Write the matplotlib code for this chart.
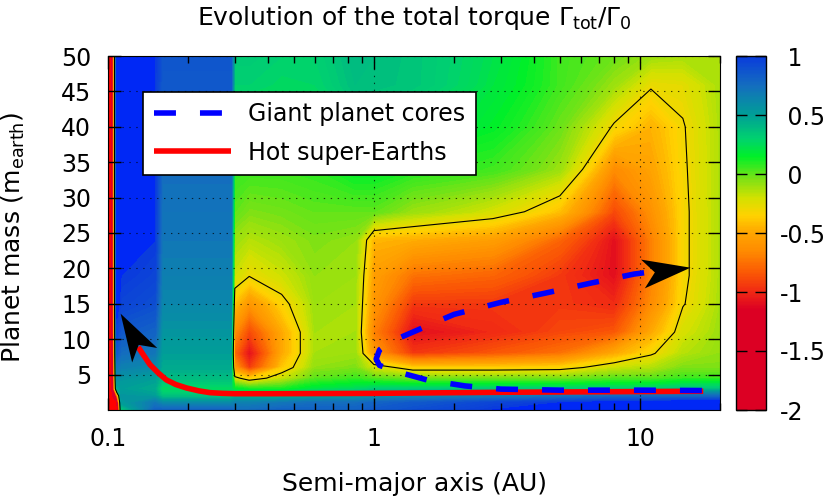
import numpy as np
import matplotlib
matplotlib.use('Agg')
import matplotlib.pyplot as plt
from matplotlib.colors import LinearSegmentedColormap, Normalize
from matplotlib.patches import FancyArrow
from matplotlib.transforms import IdentityTransform
from matplotlib.ticker import LogLocator, NullFormatter
import matplotlib.cm as cm

plt.rcParams['font.family'] = 'DejaVu Sans'
plt.rcParams['lines.scale_dashes'] = False

# grid of the torque map Gamma_tot/Gamma_0
a_nodes = [0.1, 0.1025, 0.108, 0.112, 0.15, 0.16, 0.29, 0.30, 0.34, 0.45,
           0.6, 0.85, 1.0, 1.4, 2.8, 5, 8, 11, 14.5, 20]
m_nodes = [0, 1, 2, 3, 4.5, 6, 8, 11, 15, 19, 24, 28, 34, 40, 46, 50]
torque = [
    [-2.5, -2.5, -2.5, 0.3, 0.8, 0.8, 0.8, 0.75, 0.75, 0.8, 0.8, 0.8, 0.85, 0.9, 1.0, 1.05, 1.1, 1.1, 1.15, 1.15],
    [-2.5, -2.5, -2.2, 0.5, 0.7, 0.6, 0.6, 0.65, 0.65, 0.7, 0.75, 0.75, 0.8, 0.85, 0.95, 1.0, 1.05, 1.05, 1.1, 1.1],
    [-2.5, -2.5, -1.0, 0.55, 0.5, 0.35, 0.35, 0.4, 0.4, 0.4, 0.45, 0.5, 0.55, 0.6, 0.65, 0.7, 0.75, 0.75, 0.75, 0.75],
    [-2.5, -2.5, 0.4, 0.5, 0.45, 0.25, 0.25, 0.15, 0.1, 0.1, 0.2, 0.25, 0.3, 0.3, 0.3, 0.3, 0.3, 0.3, 0.35, 0.35],
    [-2.5, -2.5, 0.6, 0.55, 0.5, 0.38, 0.38, -0.25, -0.4, -0.2, 0.0, 0.05, 0.0, -0.05, -0.05, -0.05, 0.0, 0.0, 0.05, 0.05],
    [-2.5, -2.5, 0.7, 0.65, 0.6, 0.45, 0.45, -0.6, -0.95, -0.4, -0.08, -0.05, -0.22, -0.38, -0.38, -0.36, -0.2, -0.15, -0.05, -0.05],
    [-2.5, -2.5, 0.85, 0.75, 0.7, 0.5, 0.5, -0.8, -1.1, -0.5, -0.12, -0.1, -0.6, -0.95, -0.85, -0.75, -0.5, -0.32, -0.15, -0.08],
    [-2.5, -2.5, 0.95, 0.85, 0.8, 0.55, 0.55, -0.65, -0.9, -0.5, -0.12, -0.12, -0.7, -1.1, -1.0, -0.9, -0.85, -0.5, -0.22, -0.1],
    [-2.5, -2.5, 1.05, 0.95, 0.9, 0.62, 0.62, -0.42, -0.6, -0.35, -0.1, -0.12, -0.6, -0.95, -0.95, -0.95, -1.0, -0.65, -0.31, -0.12],
    [-2.5, -2.5, 1.05, 1.0, 0.95, 0.66, 0.66, -0.2, -0.29, -0.2, -0.08, -0.1, -0.55, -0.75, -0.8, -0.95, -1.1, -0.7, -0.33, -0.13],
    [-2.5, -2.5, 1.05, 1.05, 1.0, 0.7, 0.7, -0.1, -0.15, -0.1, -0.05, -0.08, -0.45, -0.48, -0.55, -0.8, -1.1, -0.7, -0.33, -0.13],
    [-2.5, -2.5, 1.05, 1.05, 1.0, 0.72, 0.72, 0.0, -0.05, -0.03, 0.0, 0.0, 0.0, -0.1, -0.22, -0.42, -0.9, -0.62, -0.33, -0.13],
    [-2.5, -2.5, 1.05, 1.05, 1.0, 0.75, 0.75, 0.08, 0.06, 0.06, 0.08, 0.15, 0.15, 0.1, 0.05, -0.1, -0.65, -0.52, -0.32, -0.13],
    [-2.5, -2.5, 1.05, 1.05, 1.0, 0.8, 0.8, 0.2, 0.2, 0.18, 0.2, 0.3, 0.3, 0.25, 0.15, -0.02, -0.32, -0.46, -0.31, -0.13],
    [-2.5, -2.5, 1.05, 1.05, 1.0, 0.85, 0.85, 0.3, 0.3, 0.27, 0.28, 0.38, 0.37, 0.35, 0.2, 0.05, -0.1, -0.28, -0.26, -0.12],
    [-2.5, -2.5, 1.05, 1.05, 1.0, 0.87, 0.87, 0.33, 0.33, 0.3, 0.3, 0.4, 0.38, 0.35, 0.22, 0.05, -0.02, -0.1, -0.12, -0.12],
]
contour_level = -0.3

# migration tracks
cores_a = [17.1, 10, 5, 3, 2.2, 1.6, 1.25, 1.05, 1.02, 1.05, 1.15, 1.4, 2.0, 3.0, 4.4, 6.5, 9.5, 11.5]
cores_m = [2.75, 2.8, 2.8, 2.95, 3.4, 4.2, 5.3, 6.3, 7.2, 8.5, 9.6, 11.0, 13.5, 15.2, 16.5, 17.9, 19.2, 19.6]
hot_a = [0.13, 0.137, 0.144, 0.155, 0.166, 0.18, 0.198, 0.22, 0.242, 0.27, 0.3, 0.4, 1.0, 3.0, 17.3]
hot_m = [8.9, 7.6, 6.4, 5.2, 4.25, 3.6, 3.1, 2.7, 2.45, 2.35, 2.3, 2.3, 2.35, 2.5, 2.65]
arrow_from = [(10.2, 19.2), (0.1387, 7.5)]
arrow_to = [(15.5, 20.1), (0.1117, 13.6)]

cb_ticks = [-2, -1.5, -1, -0.5, 0, 0.5, 1]

# palette
pal = [(-2.0, '#dc0023'), (-1.15, '#dc0023'), (-1.0, '#f02814'), (-0.85, '#fa5505'),
       (-0.65, '#ff8c00'), (-0.5, '#ffa500'), (-0.35, '#ffd200'), (-0.2, '#d2e100'),
       (-0.05, '#82e114'), (0.15, '#00f028'), (0.3, '#00d26e'), (0.5, '#00a096'),
       (0.75, '#146ebe'), (1.0, '#0a3cdc')]
cmap = LinearSegmentedColormap.from_list('torque', [((v + 2) / 3, c) for v, c in pal])
cmap.set_under('#ff0000')
cmap.set_over('#0028f5')
norm = Normalize(-2, 1)

fig = plt.figure(figsize=(8.31, 5.0), dpi=100)
ax = fig.add_axes([0.1298, 0.18, 0.7366, 0.708])
cax = fig.add_axes([0.8857, 0.18, 0.0361, 0.708])

Z = np.array(torque)
cf = ax.contourf(a_nodes, m_nodes, Z, levels=np.linspace(-2, 1, 151), cmap=cmap,
                 norm=norm, extend='both', zorder=0)
cf.set_edgecolor('face')
cf.set_linewidth(0.3)
ax.contour(a_nodes, m_nodes, Z, levels=[contour_level], colors='k', linewidths=0.8,
           linestyles='solid', zorder=1)

ax.set_xscale('log')
ax.set_xlim(0.1, 20)
ax.set_ylim(0, 50)

l_cores, = ax.plot(cores_a, cores_m, color='#0000ff', lw=4, ls=(0, (15.8, 17.3)),
                   dash_capstyle='butt', zorder=4, label='Giant planet cores')
l_hot, = ax.plot(hot_a, hot_m, color='#ff0000', lw=4, solid_capstyle='butt',
                 zorder=3, label='Hot super-Earths')

for p0, p1 in zip(arrow_from, arrow_to):
    x0, y0 = ax.transData.transform(p0)
    x1, y1 = ax.transData.transform(p1)
    arr = FancyArrow(x0, y0, x1 - x0, y1 - y0, width=0, head_width=29, head_length=48,
                     overhang=0.25, length_includes_head=True, color='k', lw=0,
                     transform=IdentityTransform(), zorder=5)
    fig.add_artist(arr)

ax.set_xticks([0.1, 1, 10])
ax.set_xticklabels(['0.1', '1', '10'])
ax.xaxis.set_minor_locator(LogLocator(base=10, subs=np.arange(2, 10)))
ax.xaxis.set_minor_formatter(NullFormatter())
ax.set_yticks(np.arange(5, 51, 5))
ax.tick_params(which='both', direction='in', top=True, right=True, labelsize=17)
ax.tick_params(which='major', length=9, width=1, pad=12)
ax.tick_params(which='minor', length=5, width=1)
ax.grid(True, which='major', color='k', lw=0.8, ls=(0, (1, 4)), alpha=0.7)
ax.set_axisbelow(False)

leg = ax.legend(loc='upper left', bbox_to_anchor=(0.0573, 0.899), borderaxespad=0,
                fontsize=17, frameon=True, fancybox=False, framealpha=1,
                edgecolor='k', handlelength=3.26, handletextpad=0.76,
                labelspacing=0.6, borderpad=0.45)
leg.get_frame().set_linewidth(1.2)
leg.set_zorder(6)

cb = fig.colorbar(cm.ScalarMappable(norm=norm, cmap=cmap), cax=cax, ticks=cb_ticks)
cb.outline.set_linewidth(1)
cax.tick_params(direction='in', left=True, right=True, length=8, width=1,
                labelsize=17, pad=10)
cax.set_yticklabels([('%g' % t) if t < 0 else (' %g' % t) for t in cb_ticks])

fig.text(414 / 831, 1 - 18 / 500, r'Evolution of the total torque $\Gamma_{\rm tot}/\Gamma_0$',
         ha='center', va='center', fontsize=18)
fig.text(414 / 831, 1 - 484 / 500, 'Semi-major axis (AU)', ha='center', va='center', fontsize=18)
fig.text(13 / 831, 1 - 237 / 500, r'Planet mass (m$_{\rm earth}$)', ha='center', va='center',
         rotation=90, fontsize=18)

fig.savefig('out.png', dpi=100)
